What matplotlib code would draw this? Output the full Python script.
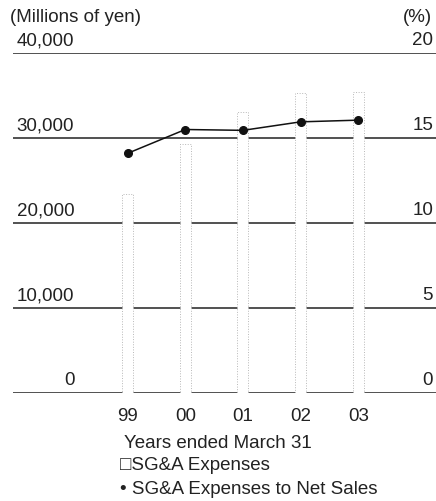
import matplotlib
matplotlib.use("Agg")
import matplotlib.pyplot as plt
import numpy as np

plt.rcParams["font.family"] = ["Liberation Sans", "DejaVu Sans"]

# values
years = ["99", "00", "01", "02", "03"]
sga_expenses = [23400, 29350, 33100, 35300, 35400]      # millions of yen
sga_to_sales = [14.1, 15.5, 15.45, 15.95, 16.05]        # %
left_ticks = [0, 10000, 20000, 30000, 40000]
left_labels = ["0", "10,000", "20,000", "30,000", "40,000"]
right_labels = ["0", "5", "10", "15", "20"]

INK = "#222222"
FS = 13.5

fig = plt.figure(figsize=(4.36, 5.01), dpi=100)
ax = fig.add_axes([13 / 436, 1 - 393 / 501, 423 / 436, 340 / 501])
ax2 = ax.twinx()

x = np.arange(len(years))
ax.set_xlim(-1.99, 5.35)
ax.set_ylim(0, 40000)
ax2.set_ylim(0, 20)

for t in left_ticks:
    ax.axhline(t, color=INK, lw=1.1, zorder=1)

# the bars came through the scan as narrow white strips with a faint edge
ax.bar(x, sga_expenses, width=0.19, color="white", edgecolor="#b8b8b8",
       linewidth=0.7, linestyle=":", zorder=2)

ax2.plot(x, sga_to_sales, color="#111111", lw=1.1, marker="o",
         markersize=5.5, zorder=4)

for a in (ax, ax2):
    for s in a.spines.values():
        s.set_visible(False)
    a.tick_params(left=False, right=False, labelleft=False, labelright=False)
    a.set_yticks([])

ax.set_xticks(x)
ax.set_xticklabels(years, fontsize=FS, color=INK)
ax.tick_params(axis="x", length=0, pad=11)

for t, lab in zip(left_ticks, left_labels):
    ax.text(0.145, t + 450, lab, transform=ax.get_yaxis_transform(),
            ha="right", va="bottom", fontsize=FS, color=INK)
for t, lab in zip(left_ticks, right_labels):
    ax.text(0.993, t + 450, lab, transform=ax.get_yaxis_transform(),
            ha="right", va="bottom", fontsize=FS, color=INK)

fig.text(10 / 436, 1 - 17 / 501, "(Millions of yen)", ha="left", va="center",
         fontsize=FS, color=INK)
fig.text(432 / 436, 1 - 17 / 501, "(%)", ha="right", va="center",
         fontsize=FS, color=INK)

fig.text(124 / 436, 1 - 443 / 501, "Years ended March 31", ha="left",
         va="center", fontsize=FS, color=INK)
fig.text(120 / 436, 1 - 466 / 501, "\u25a1SG&A Expenses", ha="left",
         va="center", fontsize=FS, color=INK)
fig.text(120 / 436, 1 - 489 / 501, "\u2022 SG&A Expenses to Net Sales",
         ha="left", va="center", fontsize=FS, color=INK)

fig.savefig("out.png", dpi=100, facecolor="white")
